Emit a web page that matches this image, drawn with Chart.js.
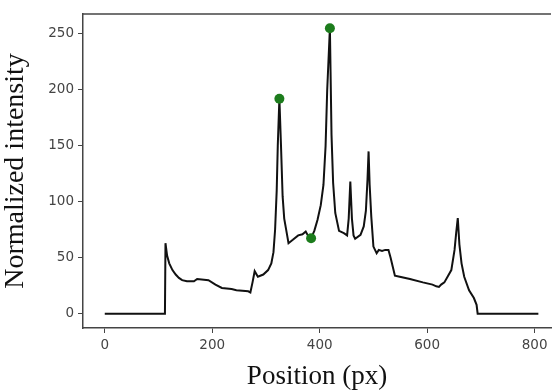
<!DOCTYPE html>
<html lang="en">
<head>
    <meta charset="UTF-8">
    <title>Intensity Profile</title>
    <script src="https://cdn.jsdelivr.net/npm/chart.js"></script>
    <style>
        html, body { margin: 0; padding: 0; background: #fff; overflow: hidden; }
        #wrap { width: 556px; height: 390px; }
    </style>
</head>
<body>
    <div id="wrap"><canvas id="profileChart"></canvas></div>

    <script>
        // Profile along the line (position in px, normalized intensity)
        const positions = [
            0, 112, 113, 116, 120, 126, 132, 138, 144, 153,
            166, 172, 193, 206, 218, 236, 245, 267, 271, 275,
            279, 285, 295, 304, 310, 314, 317, 320, 322, 325,
            328, 331, 334, 338, 342, 350, 360, 368, 374, 378,
            384, 390, 396, 402, 407, 411, 414, 419, 422, 425,
            429, 436, 445, 451, 454, 457, 460, 463, 466, 476,
            482, 486, 489, 491, 493, 496, 500, 506, 510, 516,
            522, 528, 532, 536, 540, 549, 568, 592, 610, 617,
            622, 626, 632, 638, 645, 651, 654, 657, 660, 664,
            669, 678, 687, 692, 694, 807
        ];
        const intensity = [
            0, 0, 63, 52, 45, 39, 35, 32, 30, 29,
            29, 31, 30, 26, 23, 22, 21, 20, 19, 28,
            38, 33, 35, 39, 45, 55, 75, 110, 150, 192,
            150, 105, 85, 74, 63, 66, 70, 71, 73.5, 70,
            67.5, 74, 84, 97, 115, 150, 200, 255, 160, 117,
            90, 74, 72, 70, 85, 118, 85, 70, 67, 70.5,
            78, 92, 120, 145, 115, 87, 60, 54, 57, 56,
            57, 57, 50, 42, 34, 33, 31, 28, 26, 24.5,
            24, 26, 28, 33, 39, 57, 72, 85.5, 62, 45,
            33, 21, 14, 8, 0, 0
        ];

        // Detected points
        const peakPositions = [325, 419, 384];
        const peakValues = [192, 255, 67.5];

        const xTicks = [0, 200, 400, 600, 800];
        const yTicks = [0, 50, 100, 150, 200, 250];

        const profile = positions.map((x, i) => ({ x: x, y: intensity[i] }));
        const peaks = peakPositions.map((x, i) => ({ x: x, y: peakValues[i] }));

        // top edge of the axes box (matplotlib style frame)
        const framePlugin = {
            id: 'frame',
            afterDraw(chart) {
                const { ctx, chartArea } = chart;
                ctx.save();
                ctx.strokeStyle = '#444';
                ctx.lineWidth = 1.5;
                ctx.beginPath();
                ctx.moveTo(chartArea.left, chartArea.top);
                ctx.lineTo(chartArea.right, chartArea.top);
                ctx.stroke();
                ctx.restore();
            }
        };

        const tickFont = { family: 'DejaVu Sans', size: 13.5 };

        new Chart(document.getElementById('profileChart'), {
            type: 'line',
            data: {
                datasets: [
                    {
                        label: 'Peaks',
                        data: peaks,
                        showLine: false,
                        pointRadius: 5,
                        pointHoverRadius: 5,
                        pointBackgroundColor: '#1c7c1c',
                        pointBorderColor: '#1c7c1c',
                        pointBorderWidth: 0
                    },
                    {
                        label: 'Profile',
                        data: profile,
                        borderColor: '#111',
                        borderWidth: 2,
                        pointRadius: 0,
                        tension: 0,
                        fill: false
                    }
                ]
            },
            options: {
                responsive: true,
                maintainAspectRatio: false,
                animation: false,
                layout: { padding: { top: 14, right: 0, left: 0, bottom: 0 } },
                plugins: {
                    legend: { display: false },
                    tooltip: { enabled: false }
                },
                scales: {
                    x: {
                        type: 'linear',
                        min: -40.5,
                        max: 830.5,
                        afterBuildTicks: (scale) => { scale.ticks = xTicks.map(v => ({ value: v })); },
                        afterFit: (scale) => { scale.height = 62; },
                        grid: { drawOnChartArea: false, drawTicks: true, tickLength: 5, color: '#444' },
                        border: { display: true, color: '#444', width: 1.5 },
                        ticks: { color: '#444', font: tickFont, padding: 4, maxRotation: 0 },
                        title: {
                            display: true,
                            text: 'Position (px)',
                            color: '#111',
                            font: { family: 'Liberation Serif', size: 27, lineHeight: 1.0 },
                            padding: 0
                        }
                    },
                    y: {
                        min: -12.75,
                        max: 267.75,
                        afterBuildTicks: (scale) => { scale.ticks = yTicks.map(v => ({ value: v })); },
                        afterFit: (scale) => { scale.width = 83; },
                        grid: { drawOnChartArea: false, drawTicks: true, tickLength: 5, color: '#444' },
                        border: { display: true, color: '#444', width: 1.5 },
                        ticks: { color: '#444', font: tickFont, padding: 4 },
                        title: {
                            display: true,
                            text: 'Normalized intensity',
                            color: '#111',
                            font: { family: 'Liberation Serif', size: 28, lineHeight: 1.0 },
                            padding: { top: 2, bottom: 0 }
                        }
                    }
                }
            },
            plugins: [framePlugin]
        });
    </script>
</body>
</html>
